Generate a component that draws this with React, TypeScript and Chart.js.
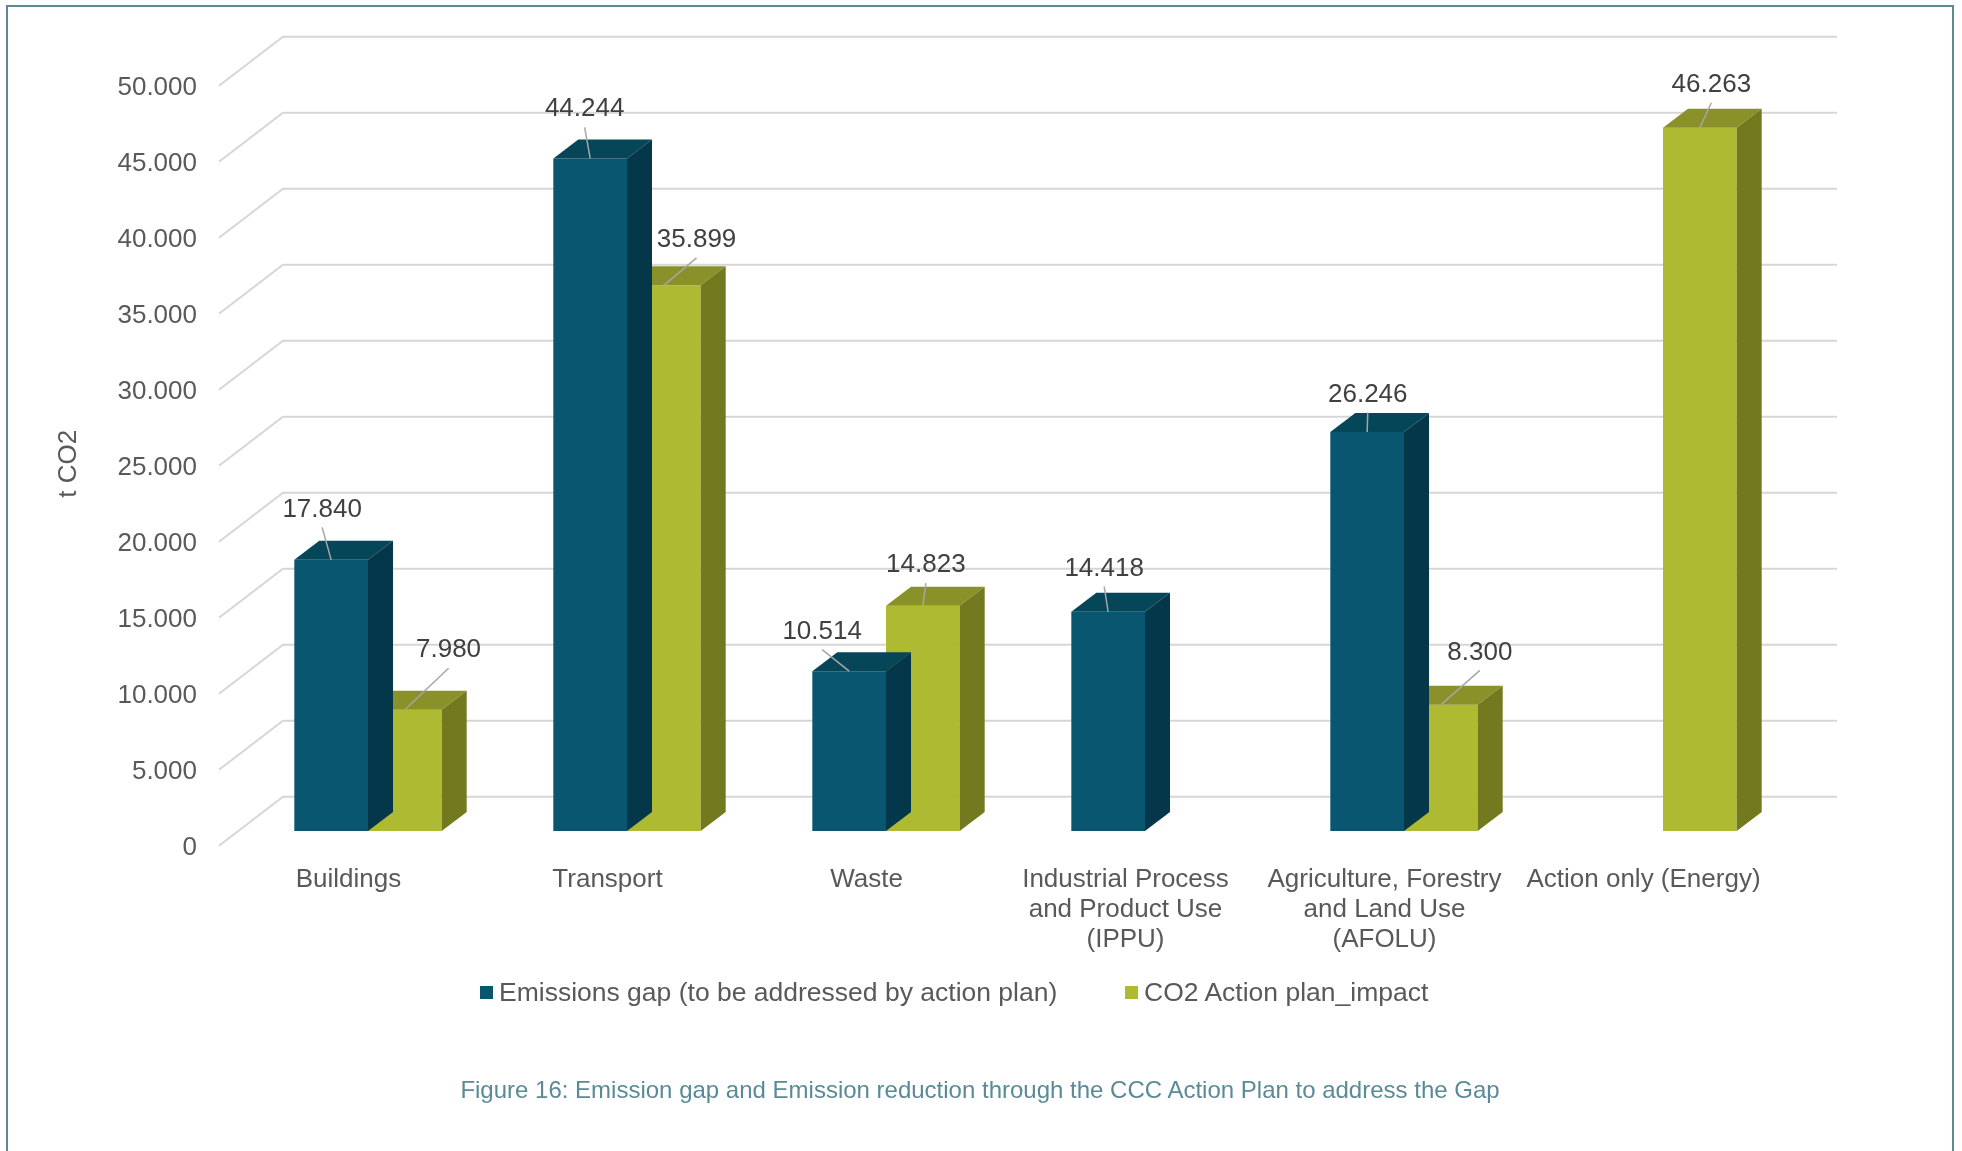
import React, { useEffect, useRef } from 'react';
import { Chart, registerables } from 'chart.js';

Chart.register(...registerables);

// ---------- data ----------
const categories: string[][] = [
  ['Buildings'],
  ['Transport'],
  ['Waste'],
  ['Industrial Process', 'and Product Use', '(IPPU)'],
  ['Agriculture, Forestry', 'and Land Use', '(AFOLU)'],
  ['Action only (Energy)'],
];
const seriesNames = ['Emissions gap (to be addressed by action plan)', 'CO2 Action plan_impact'];
const gapValues: (number | null)[] = [17840, 44244, 10514, 14418, 26246, null];
const impactValues: (number | null)[] = [7980, 35899, 14823, null, 8300, 46263];
const yMin = 0;
const yMax = 50000;
const yStep = 5000;
const yAxisTitle = 't CO2';
const caption = 'Figure 16: Emission gap and Emission reduction through the CCC Action Plan to address the Gap';

// ---------- styles ----------
const FONT = '"Liberation Sans", Arial, sans-serif';
const frontColors = ['#08566F', '#AFBA33'];
const topColors = ['#064659', '#8A9128'];
const sideColors = ['#05374A', '#72791F'];
const GRID = '#d6d6d6';
const TICK_COLOR = '#595959';
const LABEL_COLOR = '#404040';
const BAR_DX = 25;
const BAR_DY = -19;
const FRONT_DX = -19.5;
const FRONT_DY = 14.7;
const BACK_DX = 44.5;
const BACK_DY = -34.3;
// data-label offsets (relative to top-front centre of each bar)
const gapLabelOffsets: ([number, number] | null)[] = [[-9, -50.5], [-5.5, -49.2], [-27, -39.5], [-4, -43.5], [0.6, -37.7], null];
const impactLabelOffsets: ([number, number] | null)[] = [[43.7, -59.5], [32.7, -45.5], [3, -40.5], null, [39, -52.5], [11.5, -43]];
const labelOffsets = [gapLabelOffsets, impactLabelOffsets];

const fmt = (v: number) => String(Math.round(v)).replace(/\B(?=(\d{3})+(?!\d))/g, '.');

const bar3dPlugin = {
  id: 'bar3d',
  beforeDatasetsDraw(chart: any) {
    const { ctx, chartArea, scales } = chart;
    const y = scales.y;
    ctx.save();
    ctx.strokeStyle = GRID;
    ctx.lineWidth = 2;
    y.ticks.forEach((t: any) => {
      const py = y.getPixelForValue(t.value);
      ctx.beginPath();
      ctx.moveTo(chartArea.left + FRONT_DX, py + FRONT_DY);
      ctx.lineTo(chartArea.left + BACK_DX, py + BACK_DY);
      ctx.lineTo(chartArea.right + BACK_DX, py + BACK_DY);
      ctx.stroke();
    });
    ctx.restore();
  },
  afterDatasetDraw(chart: any, args: any) {
    const { ctx } = chart;
    const idx = args.index;
    const ds = chart.data.datasets[idx];
    const meta = args.meta;
    ctx.save();
    meta.data.forEach((el: any, i: number) => {
      if (ds.data[i] == null) return;
      const { x, y, base, width } = el.getProps(['x', 'y', 'base', 'width'], true);
      const l = x - width / 2;
      const r = x + width / 2;
      ctx.fillStyle = topColors[idx];
      ctx.beginPath();
      ctx.moveTo(l, y);
      ctx.lineTo(r, y);
      ctx.lineTo(r + BAR_DX, y + BAR_DY);
      ctx.lineTo(l + BAR_DX, y + BAR_DY);
      ctx.closePath();
      ctx.fill();
      ctx.fillStyle = sideColors[idx];
      ctx.beginPath();
      ctx.moveTo(r, y);
      ctx.lineTo(r + BAR_DX, y + BAR_DY);
      ctx.lineTo(r + BAR_DX, base + BAR_DY);
      ctx.lineTo(r, base);
      ctx.closePath();
      ctx.fill();
    });
    ctx.restore();
  },
  afterDatasetsDraw(chart: any) {
    const { ctx } = chart;
    ctx.save();
    chart.data.datasets.forEach((ds: any, di: number) => {
      const meta = chart.getDatasetMeta(di);
      meta.data.forEach((el: any, i: number) => {
        const v = ds.data[i];
        const off = labelOffsets[di][i];
        if (v == null || !off) return;
        const { x, y } = el.getProps(['x', 'y'], true);
        const lx = x + off[0];
        const ly = y + off[1];
        ctx.strokeStyle = '#a6a6a6';
        ctx.lineWidth = 1.5;
        ctx.beginPath();
        ctx.moveTo(lx, ly + 18);
        ctx.lineTo(x, y);
        ctx.stroke();
        ctx.fillStyle = LABEL_COLOR;
        ctx.font = `26px ${FONT}`;
        ctx.textAlign = 'center';
        ctx.textBaseline = 'middle';
        ctx.fillText(fmt(v), lx, ly);
      });
    });
    ctx.restore();
  },
  afterDraw(chart: any) {
    const { ctx, scales } = chart;
    const y = scales.y;
    const cy = (y.getPixelForValue(yMin) + y.getPixelForValue(yMax)) / 2 + FRONT_DY - 2;
    ctx.save();
    ctx.translate(69, cy);
    ctx.rotate(-Math.PI / 2);
    ctx.fillStyle = TICK_COLOR;
    ctx.font = `26px ${FONT}`;
    ctx.textAlign = 'center';
    ctx.textBaseline = 'middle';
    ctx.fillText(yAxisTitle, 0, 0);
    ctx.restore();
  },
};

export default function App() {
  const ref = useRef<HTMLCanvasElement>(null);
  useEffect(() => {
    const canvas = ref.current;
    if (!canvas) return;
    const chart = new Chart(canvas, {
      type: 'bar',
      data: {
        labels: categories,
        datasets: [
          { label: seriesNames[0], data: gapValues, backgroundColor: frontColors[0], borderWidth: 0, categoryPercentage: 0.569, barPercentage: 1 } as any,
          { label: seriesNames[1], data: impactValues, backgroundColor: frontColors[1], borderWidth: 0, categoryPercentage: 0.569, barPercentage: 1 } as any,
        ],
      },
      options: {
        animation: false,
        responsive: false,
        devicePixelRatio: 1,
        layout: { padding: { top: 71, right: 169.5, bottom: 0, left: 0 } },
        scales: {
          x: {
            grid: { display: false, drawTicks: false },
            border: { display: false },
            ticks: {
              color: TICK_COLOR,
              font: { family: FONT, size: 26, lineHeight: '30px' as any },
              padding: 33.5,
              labelOffset: FRONT_DX,
              maxRotation: 0,
              autoSkip: false,
            },
            afterFit: (s: any) => { s.height = 320; },
          },
          y: {
            min: yMin,
            max: yMax,
            grid: { display: false, drawTicks: false },
            border: { display: false },
            ticks: {
              stepSize: yStep,
              color: TICK_COLOR,
              font: { family: FONT, size: 26 },
              padding: 41.5,
              labelOffset: FRONT_DY + 2,
              callback: (v: any) => fmt(Number(v)),
            },
            afterFit: (s: any) => { s.width = 238.5; },
          },
        },
        plugins: {
          legend: { display: false },
          tooltip: { enabled: false },
        },
      },
      plugins: [bar3dPlugin],
    });
    return () => chart.destroy();
  }, []);

  const legendLefts = [480, 1125];
  return (
    <div style={{ position: 'absolute', left: 0, top: 0, width: 1962, height: 1151, background: '#fff', overflow: 'hidden' }}>
      <canvas ref={ref} width={1962} height={1151} style={{ position: 'absolute', left: 0, top: 0, width: 1962, height: 1151 }} />
      <div style={{ position: 'absolute', left: 6, top: 5, width: 1948, height: 1146, boxSizing: 'border-box', border: '2px solid #5d8894', borderBottom: 'none' }} />
      {seriesNames.map((name, i) => (
        <div key={name} style={{ position: 'absolute', left: legendLefts[i], top: 977, height: 30, display: 'flex', alignItems: 'center', fontFamily: FONT, fontSize: 26.5, lineHeight: '30px', color: TICK_COLOR, whiteSpace: 'nowrap' }}>
          <span style={{ display: 'inline-block', width: 13, height: 13, background: frontColors[i], marginRight: 6 }} />
          <span>{name}</span>
        </div>
      ))}
      <div style={{ position: 'absolute', left: 0, top: 1075, width: 1960, textAlign: 'center', fontFamily: FONT, fontSize: 24, lineHeight: '30px', color: '#5b8a97', whiteSpace: 'nowrap' }}>
        {caption}
      </div>
    </div>
  );
}
